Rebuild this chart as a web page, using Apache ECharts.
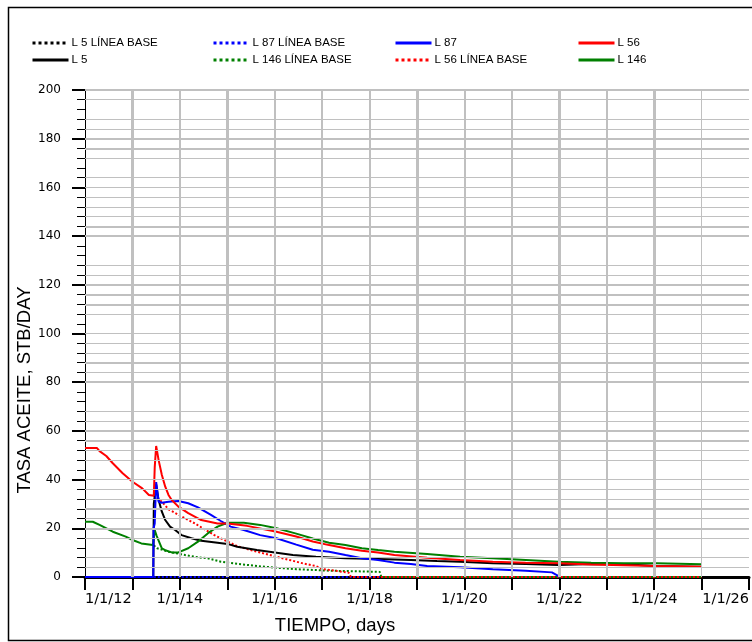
<!DOCTYPE html>
<html>
<head>
<meta charset="utf-8">
<script src="https://cdn.jsdelivr.net/npm/echarts@6/dist/echarts.min.js"></script>
<style>
  html, body { margin: 0; padding: 0; background: #ffffff; }
  #chart { width: 752px; height: 642px; }
</style>
</head>
<body>
<div id="chart"></div>
<script>
// Oil rate per well, STB/day, by date
const l56 = [
  ['2012-01-01', 53], ['2012-04-01', 53], ['2012-04-22', 51.7], ['2012-06-13', 49.7],
  ['2012-08-02', 46.7], ['2012-10-17', 42.6], ['2013-01-01', 39.1], ['2013-03-17', 36.4],
  ['2013-05-07', 33.7], ['2013-06-14', 33.4], ['2013-06-21', 45], ['2013-07-02', 53.8],
  ['2013-07-21', 48], ['2013-08-15', 41.9], ['2013-09-10', 37.1], ['2013-10-05', 33.7],
  ['2013-10-30', 31.6], ['2013-12-20', 28.9], ['2014-03-06', 26.2], ['2014-06-14', 23.4],
  ['2014-10-18', 22], ['2015-01-02', 22], ['2015-06-02', 21], ['2016-01-15', 18.6],
  ['2016-06-15', 16.6], ['2016-10-20', 14.6], ['2017-02-23', 13.1], ['2017-06-29', 11.8],
  ['2017-11-02', 10.8], ['2018-03-07', 10.1], ['2018-07-11', 9.0], ['2019-03-20', 7.9],
  ['2019-11-29', 7.0], ['2020-08-07', 6.3], ['2021-04-17', 5.9], ['2021-12-26', 5.6],
  ['2022-09-03', 5.1], ['2023-05-13', 4.8], ['2024-01-21', 4.5], ['2025-01-01', 4.2]
];
const l146 = [
  ['2012-01-01', 22.7], ['2012-03-01', 22.7], ['2012-04-22', 21.4], ['2012-08-02', 18.6],
  ['2012-11-10', 16.6], ['2013-01-01', 15.2], ['2013-03-10', 13.8], ['2013-06-07', 13.1],
  ['2013-06-14', 13], ['2013-06-21', 19.3], ['2013-07-05', 17], ['2013-08-15', 11.8],
  ['2013-09-05', 11.1], ['2013-10-30', 10.1], ['2013-12-20', 10.1], ['2014-03-06', 11.8],
  ['2014-05-20', 14.5], ['2014-08-03', 17.9], ['2014-10-18', 20.7], ['2015-01-02', 22.3],
  ['2015-05-08', 22.3], ['2015-09-11', 21.4], ['2016-01-15', 20], ['2016-06-15', 17.8],
  ['2016-10-20', 15.8], ['2017-02-23', 14.1], ['2017-06-29', 13.1], ['2017-11-02', 11.8],
  ['2018-03-07', 11.1], ['2018-07-11', 10.4], ['2019-03-20', 9.4], ['2019-11-29', 8.3],
  ['2020-08-07', 7.7], ['2021-04-17', 7.0], ['2021-12-26', 6.3], ['2022-09-03', 5.9],
  ['2023-05-13', 5.6], ['2024-01-21', 5.6], ['2025-01-01', 5.2]
];
const l87 = [
  ['2012-01-01', 0], ['2013-06-10', 0], ['2013-06-12', 20], ['2013-06-21', 22],
  ['2013-07-02', 39], ['2013-07-21', 30.9], ['2013-08-15', 30.5], ['2013-10-05', 30.9],
  ['2013-12-20', 31.2], ['2014-03-06', 30.3], ['2014-05-20', 28.6], ['2014-08-28', 25.5],
  ['2014-11-12', 23], ['2015-01-27', 20.7], ['2015-05-08', 19.3], ['2015-09-11', 17.2],
  ['2016-01-15', 15.9], ['2016-06-15', 13.3], ['2016-10-20', 11.2], ['2017-02-23', 10.4],
  ['2017-06-29', 9.0], ['2017-11-02', 7.7], ['2018-03-07', 7.0], ['2018-07-11', 5.9],
  ['2018-11-15', 5.3], ['2019-03-20', 4.5], ['2019-11-29', 4.0], ['2020-04-03', 3.6],
  ['2020-08-07', 3.2], ['2021-04-17', 2.6], ['2021-11-05', 1.9], ['2021-12-13', 0.8],
  ['2022-01-01', 0]
];
const l5 = [
  ['2012-01-01', 0], ['2013-06-10', 0], ['2013-06-14', 30], ['2013-07-02', 38],
  ['2013-07-21', 31.6], ['2013-08-15', 26.8], ['2013-09-10', 23.4], ['2013-10-17', 20.7],
  ['2013-11-25', 19.3], ['2014-01-14', 17.2], ['2014-03-31', 15.9], ['2014-06-14', 14.9],
  ['2014-10-18', 14.1], ['2015-01-02', 13.6], ['2015-03-18', 12.4], ['2015-08-17', 11.1],
  ['2016-01-15', 10.0], ['2016-05-20', 9.0], ['2016-11-14', 8.3], ['2017-06-29', 7.7],
  ['2018-03-07', 7.4], ['2018-11-15', 7.0], ['2019-06-04', 6.6], ['2019-11-29', 6.3],
  ['2020-08-07', 5.6], ['2021-04-17', 5.3], ['2021-12-26', 4.9], ['2022-09-03', 5.3],
  ['2023-05-13', 5.2], ['2024-01-21', 4.5], ['2025-01-01', 4.2]
];
// Baseline forecasts (no intervention)
const l56Base = [
  ['2013-06-14', 33.4], ['2013-08-15', 30.9], ['2013-10-05', 27.8], ['2014-03-06', 23.4],
  ['2014-04-26', 22], ['2014-06-27', 20], ['2014-09-23', 17.2], ['2014-12-08', 15.2],
  ['2015-03-18', 12.7], ['2015-06-27', 11.1], ['2015-10-07', 9.7], ['2016-01-15', 8.3],
  ['2016-04-24', 7.0], ['2016-08-05', 5.6], ['2016-11-14', 4.5], ['2017-01-04', 3.2],
  ['2017-02-23', 2.9], ['2017-07-24', 1.8], ['2017-08-10', 0], ['2025-01-01', 0]
];
const l146Base = [
  ['2013-06-14', 13], ['2013-07-10', 11.8], ['2013-10-05', 10.4], ['2014-02-10', 9.0],
  ['2014-05-20', 8.1], ['2014-08-03', 7.7], ['2014-11-12', 6.3], ['2015-02-22', 5.6],
  ['2015-08-17', 4.5], ['2016-01-15', 3.8], ['2016-06-15', 3.2], ['2016-10-20', 2.9],
  ['2017-02-23', 2.6], ['2017-11-02', 2.3], ['2018-03-20', 2.1], ['2018-04-01', 0],
  ['2025-01-01', 0]
];
const l87Base = [['2013-06-14', 0], ['2025-01-01', 0]];
const l5Base = [['2013-06-14', 0], ['2025-01-01', 0]];

// Axis ranges and gridline placement
const xStart = '2012-01-01';
const xEnd = '2026-01-01';
const yMax = 200;
const gridThinY = [196, 188, 184, 172, 164, 160, 156, 152, 148, 128, 124, 108, 100, 96, 92,
                   84, 68, 64, 52, 48, 40, 36, 32, 24, 16, 8, 4];
const gridThickY = [200, 180, 176, 144, 140, 120, 116, 112, 88, 80, 60, 56, 28, 20];
const gridYearsThick = [2013, 2015, 2019, 2022, 2024];
const gridYears = [2014, 2016, 2017, 2018, 2020, 2021, 2023];
const gridYearsFaint = [2025];

const FONT = "'Liberation Sans', Arial, sans-serif";
const GRID_COLOR = '#c0c0c0';
const yearTs = y => new Date(y, 0, 1).getTime();

const gridLines = []
  .concat(gridThinY.map(v => ({ yAxis: v, lineStyle: { width: 1 } })))
  .concat(gridThickY.map(v => ({ yAxis: v, lineStyle: { width: 2 } })))
  .concat(gridYears.map(y => ({ xAxis: yearTs(y), lineStyle: { width: 2 } })))
  .concat(gridYearsThick.map(y => ({ xAxis: yearTs(y), lineStyle: { width: 3 } })))
  .concat(gridYearsFaint.map(y => ({ xAxis: yearTs(y), lineStyle: { width: 1 } })));

function lineSeries(name, data, color, dotted) {
  return {
    name, type: 'line', data, z: 3,
    symbol: 'none', showSymbol: false,
    lineStyle: { color, width: 2, type: dotted ? 'dotted' : 'solid' },
    itemStyle: { color },
    animation: false, silent: true
  };
}

// Legend shows only the line sample, no marker
const legendCommon = {
  orient: 'vertical', top: 37, padding: 0,
  itemWidth: 36, itemHeight: 14, itemGap: 5,
  selectedMode: false,
  itemStyle: { opacity: 0 },
  lineStyle: { width: 3 },
  textStyle: { fontFamily: FONT, fontSize: 11.5, color: '#000', padding: [0, 0, 0, -2] }
};

const chart = echarts.init(document.getElementById('chart'), null, { renderer: 'canvas' });
chart.setOption({
  backgroundColor: '#ffffff',
  animation: false,
  grid: { left: 85, right: -9, top: 90, bottom: 65, containLabel: false },
  legend: [
    Object.assign({ left: 31, data: ['L 5 LÍNEA BASE', 'L 5'] }, legendCommon),
    Object.assign({ left: 212, data: ['L 87 LÍNEA BASE', 'L 146 LÍNEA BASE'] }, legendCommon),
    Object.assign({ left: 394, data: ['L 87', 'L 56 LÍNEA BASE'] }, legendCommon),
    Object.assign({ left: 577, data: ['L 56', 'L 146'] }, legendCommon)
  ],
  xAxis: {
    type: 'time', min: xStart, max: xEnd,
    minInterval: 365 * 86400000, maxInterval: 366 * 86400000,
    axisLine: { show: true, onZero: false, lineStyle: { color: '#000', width: 3 } },
    axisTick: { show: true, length: 13, lineStyle: { color: '#000', width: 2 } },
    minorTick: { show: false },
    splitLine: { show: false },
    axisLabel: {
      show: true, margin: 15, color: '#000',
      fontFamily: "'DejaVu Sans', sans-serif", fontSize: 14.5,
      showMinLabel: true, showMaxLabel: true,
      alignMinLabel: 'left', alignMaxLabel: 'right',
      formatter: v => {
        const d = new Date(v);
        const y = d.getFullYear();
        if (y % 2 !== 0) return '';
        return '1/1/' + String(y).slice(2);
      }
    }
  },
  yAxis: {
    type: 'value', min: 0, max: yMax, interval: 20,
    axisLine: { show: true, onZero: false, lineStyle: { color: '#000', width: 1 } },
    axisTick: { show: true, length: 13, lineStyle: { color: '#000', width: 2 } },
    minorTick: { show: true, splitNumber: 5, length: 8, lineStyle: { color: '#000', width: 1 } },
    splitLine: { show: false },
    axisLabel: {
      margin: 24, color: '#000',
      fontFamily: "'DejaVu Sans', sans-serif", fontSize: 12
    }
  },
  series: [
    {
      name: 'grid', type: 'line', data: [], z: 1, silent: true, animation: false,
      markLine: {
        silent: true, symbol: ['none', 'none'], animation: false,
        label: { show: false },
        lineStyle: { color: GRID_COLOR, type: 'solid', width: 1 },
        emphasis: { disabled: true },
        data: gridLines
      }
    },
    lineSeries('L 5 LÍNEA BASE', l5Base, '#000000', true),
    lineSeries('L 87 LÍNEA BASE', l87Base, '#0000ff', true),
    lineSeries('L 146 LÍNEA BASE', l146Base, '#008000', true),
    lineSeries('L 56 LÍNEA BASE', l56Base, '#ff0000', true),
    lineSeries('L 5', l5, '#000000', false),
    lineSeries('L 146', l146, '#008000', false),
    lineSeries('L 87', l87, '#0000ff', false),
    lineSeries('L 56', l56, '#ff0000', false)
  ],
  graphic: [
    {
      type: 'rect', silent: true, z: 0,
      shape: { x: 8.5, y: 7.5, width: 800, height: 633 },
      style: { fill: 'none', stroke: '#000', lineWidth: 1.5 }
    },
    {
      type: 'text', silent: true, x: 25, y: 390, rotation: Math.PI / 2,
      style: { text: 'TASA ACEITE, STB/DAY', font: '18.5px ' + FONT, fill: '#000',
               align: 'center', verticalAlign: 'middle' }
    },
    {
      type: 'text', silent: true, x: 335, y: 626,
      style: { text: 'TIEMPO, days', font: '18.5px ' + FONT, fill: '#000',
               align: 'center', verticalAlign: 'middle' }
    }
  ]
});
</script>
</body>
</html>
